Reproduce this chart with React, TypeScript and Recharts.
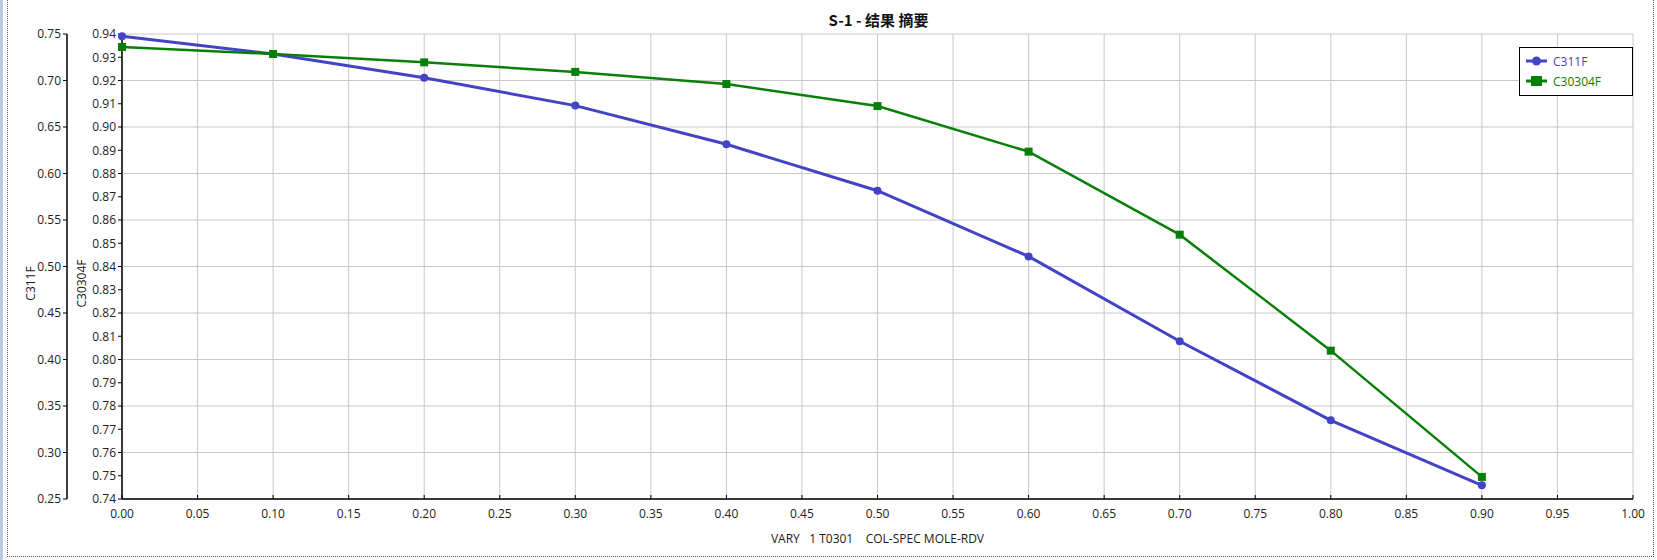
import { CartesianGrid, Legend, Line, LineChart, XAxis, YAxis } from "recharts";

const varyValues = [0, 0.1, 0.2, 0.3, 0.4, 0.5, 0.6, 0.7, 0.8, 0.9];
const c311f = [0.7475, 0.7285, 0.703, 0.673, 0.6314, 0.5815, 0.5108, 0.4196, 0.3346, 0.2647];
const c30304f = [0.9344, 0.9314, 0.9278, 0.9237, 0.9185, 0.909, 0.8894, 0.8537, 0.8038, 0.7495];

const xTicks = [
  0, 0.05, 0.1, 0.15, 0.2, 0.25, 0.3, 0.35, 0.4, 0.45, 0.5, 0.55, 0.6, 0.65, 0.7, 0.75, 0.8, 0.85,
  0.9, 0.95, 1,
];
const c311fTicks = [0.25, 0.3, 0.35, 0.4, 0.45, 0.5, 0.55, 0.6, 0.65, 0.7, 0.75];
const c30304fTicks = [
  0.74, 0.75, 0.76, 0.77, 0.78, 0.79, 0.8, 0.81, 0.82, 0.83, 0.84, 0.85, 0.86, 0.87, 0.88, 0.89,
  0.9, 0.91, 0.92, 0.93, 0.94,
];

const legendOrder = ["c311f", "c30304f"];

const BLUE = "#4343c6";
const GREEN = "#087f08";
const FONT = "'Open Sans', 'Noto Sans', sans-serif";

const data = varyValues.map((x, i) => ({ x, c311f: c311f[i], c30304f: c30304f[i] }));

const tickStyle = { fill: "#222", fontSize: 12, fontFamily: FONT };
const fmt = (v: number) => v.toFixed(2);

function AxisTitle({ viewBox, text, dx }: any) {
  if (!viewBox) return null;
  const cx = viewBox.x + viewBox.width / 2 + dx;
  const cy = viewBox.y + viewBox.height / 2 + 17;
  return (
    <text
      x={cx}
      y={cy}
      transform={`rotate(-90, ${cx}, ${cy})`}
      textAnchor="middle"
      dominantBaseline="central"
      fill="#1a1a1a"
      fontSize={12}
      fontFamily={FONT}
    >
      {text}
    </text>
  );
}

function SquareDot({ cx, cy }: any) {
  if (cx == null || cy == null) return null;
  return <rect x={cx - 4} y={cy - 4} width={8} height={8} fill={GREEN} />;
}

function LegendBox({ payload }: any) {
  const items = [...(payload || [])].sort(
    (a: any, b: any) => legendOrder.indexOf(a.dataKey) - legendOrder.indexOf(b.dataKey),
  );
  return (
    <div
      style={{
        border: "1px solid #000",
        background: "#fff",
        padding: "3px 6px",
        boxSizing: "border-box",
        width: 114,
        height: 49,
        fontFamily: FONT,
        fontSize: 12,
      }}
    >
      {items.map((entry: any) => (
        <div
          key={entry.value}
          style={{ display: "flex", alignItems: "center", height: 20, color: entry.color }}
        >
          <svg width={22} height={12} style={{ marginRight: 5 }}>
            <line x1={0} y1={6} x2={21} y2={6} stroke={entry.color} strokeWidth={3} />
            {entry.dataKey === "c311f" ? (
              <circle cx={10.5} cy={6} r={4.5} fill={entry.color} />
            ) : (
              <rect x={5} y={1} width={11} height={10} fill={entry.color} />
            )}
          </svg>
          <span>{entry.value}</span>
        </div>
      ))}
    </div>
  );
}

export default function App() {
  return (
    <div
      style={{
        position: "absolute",
        left: 0,
        top: 0,
        width: 1657,
        height: 560,
        background: "#fff",
        overflow: "hidden",
      }}
    >
      <div style={{ position: "absolute", left: 0, top: 0, width: 3, height: 560, background: "#b9c9e0" }} />
      <div
        style={{
          position: "absolute",
          left: 7,
          top: -2,
          width: 1654 - 7,
          height: 557 + 2,
          borderLeft: "1px dotted #555",
          borderRight: "1px dotted #555",
          borderBottom: "1px dotted #555",
          boxSizing: "border-box",
        }}
      />
      <div
        style={{
          position: "absolute",
          left: 0,
          top: 10,
          width: 1757,
          textAlign: "center",
          fontFamily: "'Noto Sans CJK SC', 'Noto Sans', sans-serif",
          fontWeight: 700,
          fontSize: 15,
          color: "#111",
          lineHeight: "20px",
        }}
      >
        S-1 - 结果 摘要
      </div>
      <LineChart
        width={1657}
        height={560}
        data={data}
        margin={{ top: 34, right: 24, bottom: 0, left: 17 }}
        style={{ position: "absolute", left: 0, top: 0 }}
      >
        <CartesianGrid yAxisId="c311f" stroke="#c8c8c8" strokeWidth={1} />
        <XAxis
          dataKey="x"
          type="number"
          domain={[0, 1]}
          ticks={xTicks}
          interval={0}
          tickFormatter={fmt}
          tick={tickStyle}
          tickSize={-4}
          tickMargin={14}
          tickLine={{ stroke: "#000" }}
          axisLine={{ stroke: "#000", strokeWidth: 1.5 }}
          height={61}
          label={{
            value: "VARY\u00a0\u00a0 1 T0301\u00a0\u00a0\u00a0 COL-SPEC MOLE-RDV",
            position: "insideBottom",
            offset: 17,
            fill: "#1a1a1a",
            fontSize: 12,
            fontFamily: FONT,
          }}
        />
        <YAxis
          yAxisId="c30304f"
          orientation="left"
          domain={[0.74, 0.94]}
          ticks={c30304fTicks}
          interval={0}
          tickFormatter={fmt}
          tick={tickStyle}
          tickSize={4}
          tickLine={{ stroke: "#000" }}
          axisLine={{ stroke: "#000", strokeWidth: 1.5 }}
          width={55}
          label={<AxisTitle text="C30304F" dx={-13} />}
        />
        <YAxis
          yAxisId="c311f"
          orientation="left"
          domain={[0.25, 0.75]}
          ticks={c311fTicks}
          interval={0}
          tickFormatter={fmt}
          tick={tickStyle}
          tickSize={4}
          tickLine={{ stroke: "#000" }}
          axisLine={{ stroke: "#000", strokeWidth: 1.5 }}
          width={50}
          label={<AxisTitle text="C311F" dx={-12} />}
        />
        <Legend
          layout="vertical"
          align="center"
          verticalAlign="middle"
          content={<LegendBox />}
          wrapperStyle={{ left: 1519, top: 47, width: 114, height: 49 }}
        />
        <Line
          yAxisId="c311f"
          dataKey="c311f"
          name="C311F"
          type="linear"
          stroke={BLUE}
          strokeWidth={3}
          dot={{ r: 4, fill: BLUE, stroke: BLUE, strokeWidth: 0 }}
          activeDot={false}
          isAnimationActive={false}
        />
        <Line
          yAxisId="c30304f"
          dataKey="c30304f"
          name="C30304F"
          type="linear"
          stroke={GREEN}
          strokeWidth={2.5}
          dot={<SquareDot />}
          activeDot={false}
          isAnimationActive={false}
        />
      </LineChart>
    </div>
  );
}
